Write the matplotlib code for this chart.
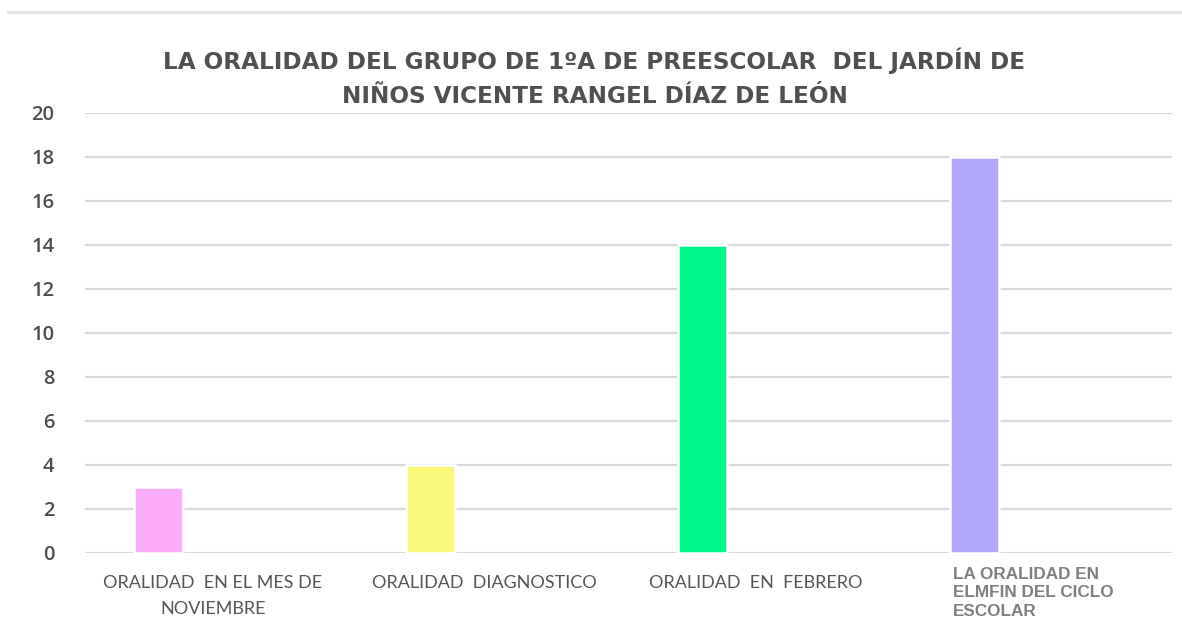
import matplotlib.pyplot as plt
from matplotlib.patches import Rectangle
from matplotlib.lines import Line2D

# data
categorias = ["ORALIDAD  EN EL MES DE\nNOVIEMBRE", "ORALIDAD  DIAGNOSTICO",
              "ORALIDAD  EN  FEBRERO", "LA ORALIDAD EN\nELMFIN DEL CICLO\nESCOLAR"]
valores = [3, 4, 14, 18]
colores = ["#FBACFB", "#FAF87A", "#00FA8A", "#B1A7F9"]
titulo = "LA ORALIDAD DEL GRUPO DE 1ºA DE PREESCOLAR  DEL JARDÍN DE\nNIÑOS VICENTE RANGEL DÍAZ DE LEÓN"
yticks = list(range(0, 21, 2))

fig = plt.figure(figsize=(11.82, 6.34), dpi=100)
ax = fig.add_axes([85 / 1182, 1 - 553 / 634, 1087 / 1182, 440 / 634])

pos = [i - 0.228 for i in range(len(valores))]
ax.bar(pos, valores, width=0.18, color=colores, edgecolor="white", linewidth=1.8, zorder=3)

ax.set_xlim(-0.5, 3.5)
ax.set_ylim(0, 20)
ax.set_yticks(yticks)
ax.yaxis.grid(True, color="#d9d9d9", linewidth=1.6, zorder=0)
ax.set_axisbelow(True)
for s in ax.spines.values():
    s.set_visible(False)
ax.tick_params(axis="both", length=0)
ax.tick_params(axis="y", labelsize=14.5, labelcolor="#4d4d4d", pad=22)
for lab in ax.get_yticklabels():
    lab.set_fontfamily("Open Sans")
    lab.set_fontweight("semibold")
ax.set_xticks([])

# category labels
for i, txt in enumerate(categorias[:3]):
    ax.text(i - 0.03, -1.0, txt, ha="center", va="top", fontsize=13,
            color="#555555", family="Lato", linespacing=1.75)
# last label: white box over the baseline, left aligned, bold
ax.add_patch(Rectangle((3 - 0.47, -3.4), 0.88, 3.4, facecolor="white",
                       edgecolor="none", clip_on=False, zorder=4))
ax.text(3 - 0.305, -0.62, categorias[3], ha="left", va="top", fontsize=12.3,
        color="#7f7f7f", family="Liberation Sans", fontweight="bold",
        linespacing=1.32, zorder=5)

fig.text(0.503, 1 - 78 / 634, titulo, ha="center", va="center", fontsize=16.7,
         fontweight="bold", color="#505050", family="DejaVu Sans", linespacing=1.6)

# top border line
fig.add_artist(Line2D([8 / 1182, 1], [1 - 12 / 634] * 2, color="#e0e0e0", linewidth=2,
                      transform=fig.transFigure))

fig.savefig("out.png", dpi=100)
